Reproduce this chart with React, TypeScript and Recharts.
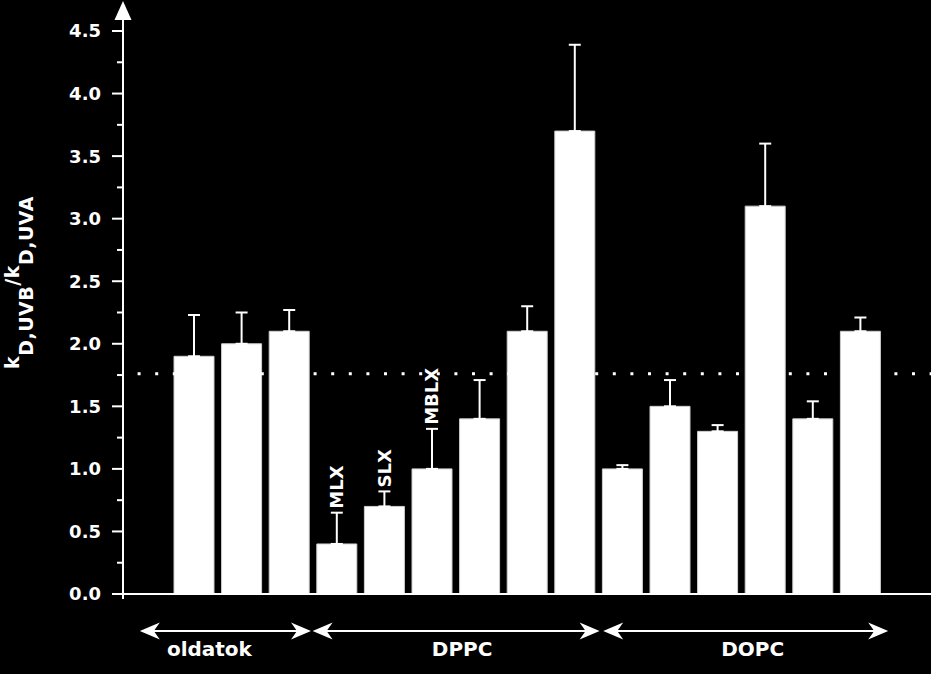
import { BarChart, Bar, XAxis, YAxis, ErrorBar, ReferenceLine, LabelList } from 'recharts'

// bars in left-to-right order
const barIds = ['o1', 'o2', 'o3', 'p1', 'p2', 'p3', 'p4', 'p5', 'p6', 'd1', 'd2', 'd3', 'd4', 'd5', 'd6']
const barNotes = ['', '', '', 'MLX', 'SLX', 'MBLX', '', '', '', '', '', '', '', '', '']
const ratios = [1.9, 2.0, 2.1, 0.4, 0.7, 1.0, 1.4, 2.1, 3.7, 1.0, 1.5, 1.3, 3.1, 1.4, 2.1]
const errorsUp = [0.33, 0.25, 0.17, 0.25, 0.12, 0.32, 0.31, 0.2, 0.69, 0.03, 0.21, 0.05, 0.5, 0.14, 0.11]

const groupNames = ['oldatok', 'DPPC', 'DOPC']
const groupSizes = [3, 6, 6]

const yTicks = [0, 0.25, 0.5, 0.75, 1, 1.25, 1.5, 1.75, 2, 2.25, 2.5, 2.75, 3, 3.25, 3.5, 3.75, 4, 4.25, 4.5]
const threshold = 1.76

const W = 931
const H = 674
const AXIS_X = 123
const X_PAD = 47
const PITCH = (W - AXIS_X - 2 * X_PAD) / barIds.length
const FONT = '"DejaVu Sans", Verdana, sans-serif'

// left overhang, right overhang, label shift (px) for the group arrows
const arrowLayout: Record<string, [number, number, number]> = {
  oldatok: [54, 22, -16],
  DPPC: [24, 25, 6],
  DOPC: [19, 28, 7],
}

const data = barIds.map((id, i) => ({
  id,
  ratio: ratios[i],
  err: [0, errorsUp[i]],
  note: barNotes[i],
}))

function YTick(props: any) {
  const { y, payload } = props
  const v = payload.value as number
  const major = Math.abs(v * 2 - Math.round(v * 2)) < 1e-6
  return (
    <g>
      <line x1={AXIS_X - (major ? 11 : 6)} x2={AXIS_X} y1={y} y2={y} stroke="#fff" strokeWidth={2} />
      {major && (
        <text x={101} y={y} dy="0.36em" textAnchor="end" fill="#fff" fontFamily={FONT} fontWeight="bold" fontSize={18}>
          {v.toFixed(1)}
        </text>
      )}
      {v === 4.5 && (
        <>
          <line x1={AXIS_X} x2={AXIS_X} y1={y} y2={16} stroke="#fff" strokeWidth={2} />
          <polygon points={`${AXIS_X},1 ${AXIS_X + 8.5},20 ${AXIS_X - 8.5},20`} fill="#fff" />
        </>
      )}
      {v === 0 && <line x1={AXIS_X} x2={AXIS_X} y1={y} y2={y + 5} stroke="#fff" strokeWidth={2} />}
    </g>
  )
}

function GroupTick(props: any) {
  const { x, index } = props
  let start = 0
  for (let g = 0; g < groupNames.length; g++) {
    if (index === start) {
      const n = groupSizes[g]
      const [pl, pr, lx] = arrowLayout[groupNames[g]]
      const x1 = x - pl
      const x2 = x + (n - 1) * PITCH + pr
      const ay = 631
      return (
        <g>
          <line x1={x1 + 10} x2={x2 - 10} y1={ay} y2={ay} stroke="#fff" strokeWidth={2} />
          <polygon points={`${x1},${ay} ${x1 + 20},${ay - 8.5} ${x1 + 14},${ay} ${x1 + 20},${ay + 8.5}`} fill="#fff" />
          <polygon points={`${x2},${ay} ${x2 - 20},${ay - 8.5} ${x2 - 14},${ay} ${x2 - 20},${ay + 8.5}`} fill="#fff" />
          <text x={(x1 + x2) / 2 + lx} y={656} textAnchor="middle" fill="#fff" fontFamily={FONT} fontWeight="bold" fontSize={20}>
            {groupNames[g]}
          </text>
        </g>
      )
    }
    start += groupSizes[g]
  }
  return <g />
}

function NoteLabel(props: any) {
  const { x, y, width, height, value } = props
  if (!value) return null
  const i = barNotes.indexOf(value)
  const perUnit = height / ratios[i]
  const top = y - errorsUp[i] * perUnit
  const cx = x + width / 2
  const ty = top - 4
  return (
    <text
      x={cx}
      y={ty}
      transform={`rotate(-90 ${cx} ${ty})`}
      textAnchor="start"
      dominantBaseline="central"
      fill="#fff"
      fontFamily={FONT}
      fontWeight="bold"
      fontSize={18}
    >
      {value}
    </text>
  )
}

export default function App() {
  return (
    <div style={{ position: 'fixed', left: 0, top: 0, width: W, height: H, background: '#000' }}>
      <BarChart width={W} height={H} data={data} margin={{ top: 31, right: 0, bottom: 0, left: 0 }} barSize={40}>
        <ReferenceLine y={threshold} stroke="#fff" strokeWidth={3} strokeDasharray="3 14.6" strokeDashoffset={3} />
        <XAxis
          dataKey="id"
          height={80}
          padding={{ left: X_PAD, right: X_PAD }}
          axisLine={{ stroke: '#fff', strokeWidth: 2 }}
          tickLine={false}
          interval={0}
          tick={(p: any) => <GroupTick {...p} />}
        />
        <YAxis
          width={AXIS_X}
          domain={[0, 4.5]}
          ticks={yTicks}
          interval={0}
          axisLine={{ stroke: '#fff', strokeWidth: 2 }}
          tickLine={false}
          tick={(p: any) => <YTick {...p} />}
        />
        <Bar dataKey="ratio" fill="#fff" stroke="#cfcfcf" strokeWidth={1} isAnimationActive={false}>
          <ErrorBar dataKey="err" direction="y" width={6} stroke="#fff" strokeWidth={2} />
          <LabelList dataKey="note" content={(p: any) => <NoteLabel {...p} />} />
        </Bar>
      </BarChart>
      <svg width={40} height={H} style={{ position: 'absolute', left: 0, top: 0 }}>
        <text
          transform="translate(19 282.5) rotate(-90)"
          textAnchor="middle"
          fill="#fff"
          fontFamily={FONT}
          fontWeight="bold"
          fontSize={19}
          letterSpacing={0.5}
        >
          <tspan>k</tspan>
          <tspan dy={14}>D,UVB</tspan>
          <tspan dy={-14}>/k</tspan>
          <tspan dy={14}>D,UVA</tspan>
        </text>
      </svg>
    </div>
  )
}
